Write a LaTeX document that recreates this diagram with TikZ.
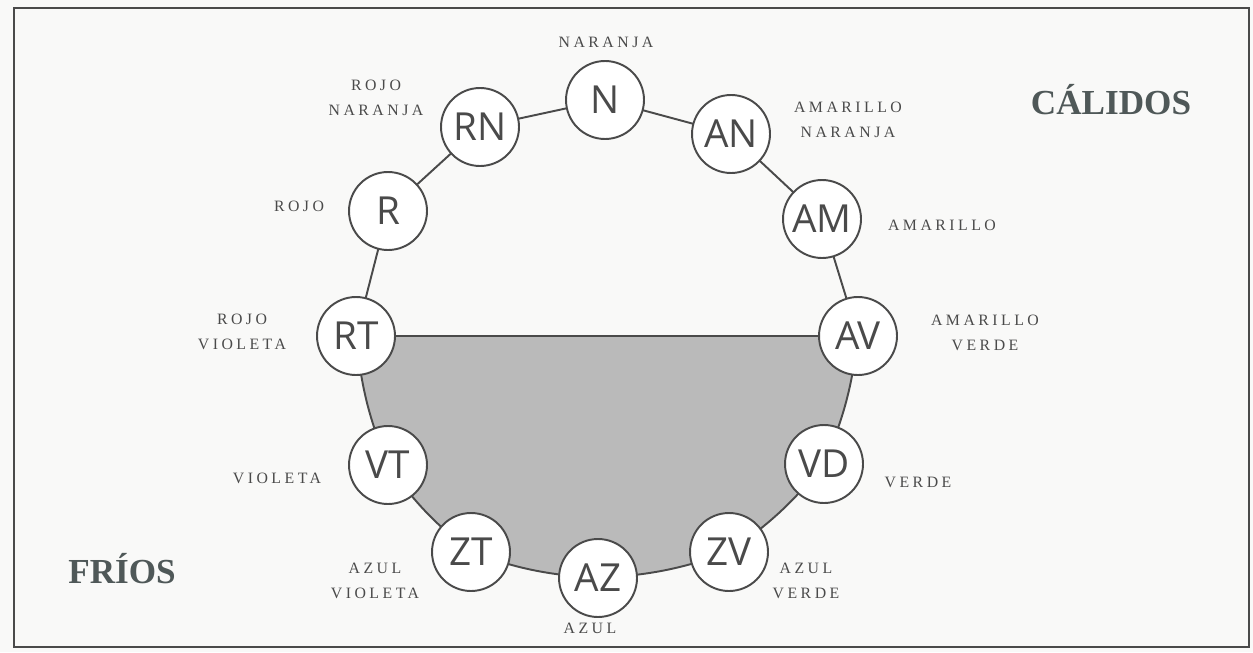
\documentclass[tikz,border=0pt]{standalone}
\usepackage{fontspec}
\setmainfont{Liberation Serif}
\newfontfamily\circfont{Open Sans}
\newfontfamily\labfont[LetterSpace=22]{Liberation Serif}
\definecolor{papel}{HTML}{F9F9F8}
\definecolor{trazo}{HTML}{4A4A4A}
\definecolor{sombra}{HTML}{BABABA}
\definecolor{titulo}{HTML}{4F5858}

\tikzset{
  tono/.style={circle, draw=trazo, line width=1.1pt, fill=white,
    minimum size=1.56cm, inner sep=0pt, text=trazo,
    font=\circfont\fontsize{22}{22}\selectfont},
  rotulo/.style={align=center, text=trazo, inner sep=0pt,
    font=\labfont\fontsize{9}{14.2}\selectfont},
  grupo/.style={text=titulo, inner sep=0pt, anchor=base,
    font=\bfseries\fontsize{20}{20}\selectfont},
  enlace/.style={draw=trazo, line width=1.1pt}
}

\begin{document}
\begin{tikzpicture}[x=0.02cm, y=-0.02cm]
\useasboundingbox (0,0) rectangle (1253,652);
\fill[papel] (0,0) rectangle (1253,652);
\draw[trazo, line width=1.2pt] (14,8) rectangle (1249,647);

% the twelve hues, clockwise from the top
\coordinate (pN) at (605,100);
\coordinate (pAN) at (731,134);
\coordinate (pAM) at (822,219);
\coordinate (pAV) at (858,336);
\coordinate (pVD) at (824,464);
\coordinate (pZV) at (729,552);
\coordinate (pAZ) at (598,578);
\coordinate (pZT) at (471,552);
\coordinate (pVT) at (388,465);
\coordinate (pRT) at (356,336);
\coordinate (pR) at (388,211);
\coordinate (pRN) at (480,127);

% ring: warm half straight, cool half shaded and slightly rounded
\foreach \a/\b in {N/AN, AN/AM, AM/AV, RT/R, R/RN, RN/N}
  \path[enlace] (p\a) -- (p\b);
\path[enlace, fill=sombra] (pAV) to[bend left=8] (pVD)
  to[bend left=8] (pZV) to[bend left=8] (pAZ) to[bend left=8] (pZT)
  to[bend left=8] (pVT) to[bend left=8] (pRT) -- cycle;

\node[tono] (N) at (pN) {N};
\node[tono] (AN) at (pAN) {AN};
\node[tono] (AM) at (pAM) {AM};
\node[tono] (AV) at (pAV) {AV};
\node[tono] (VD) at (pVD) {VD};
\node[tono] (ZV) at (pZV) {ZV};
\node[tono] (AZ) at (pAZ) {AZ};
\node[tono] (ZT) at (pZT) {ZT};
\node[tono] (VT) at (pVT) {VT};
\node[tono] (RT) at (pRT) {RT};
\node[tono] (R) at (pR) {R};
\node[tono] (RN) at (pRN) {RN};

% names of the hues
\node[rotulo] (nN) at (606,42) {NARANJA};
\node[rotulo] (nAN) at (848,120) {AMARILLO\\NARANJA};
\node[rotulo] (nAM) at (942,225) {AMARILLO};
\node[rotulo] (nAV) at (985,333) {AMARILLO\\VERDE};
\node[rotulo] (nVD) at (918,482) {VERDE};
\node[rotulo] (nZV) at (806,581) {AZUL\\VERDE};
\node[rotulo] (nAZ) at (590,628) {AZUL};
\node[rotulo] (nZT) at (375,581) {AZUL\\VIOLETA};
\node[rotulo] (nVT) at (277,478) {VIOLETA};
\node[rotulo] (nRT) at (242,332) {ROJO\\VIOLETA};
\node[rotulo] (nR) at (299,206) {ROJO};
\node[rotulo] (nRN) at (376,98) {ROJO\\NARANJA};

\node[grupo] (calidos) at (1111,114) {CÁLIDOS};
\node[grupo] (frios) at (122,583) {FRÍOS};
\end{tikzpicture}
\end{document}
